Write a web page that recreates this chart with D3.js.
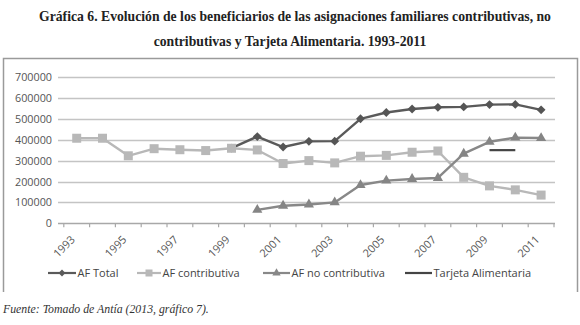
<!DOCTYPE html>
<html><head><meta charset="utf-8">
<script src="https://cdn.jsdelivr.net/npm/d3@7"></script>
<style>body{margin:0;background:#fff}svg{display:block}</style>
</head><body><svg id="c" width="580" height="325"></svg>
<script>
const years = [1993,1994,1995,1996,1997,1998,1999,2000,2001,2002,2003,2004,2005,2006,2007,2008,2009,2010,2011];
const yTicks = [0,100000,200000,300000,400000,500000,600000,700000];
const xTickLabels = [1993,1995,1997,1999,2001,2003,2005,2007,2009,2011];
const afTotal = [null,null,null,null,null,null,360000,415000,365000,392000,393000,500000,530000,547000,555000,557000,568000,569000,543000];
const afContributiva = [407000,407000,323000,357000,352000,348000,359000,351000,286000,300000,289000,321000,325000,340000,346000,220000,179000,160000,135000];
const afNoContributiva = [null,null,null,null,null,null,null,64000,84000,90000,100000,183000,204000,212000,217000,333000,390000,410000,408000];
const tarjeta = [null,null,null,null,null,null,null,null,null,null,null,null,null,null,null,null,350000,350000,null];
const seriesNames = ["AF Total","AF contributiva","AF no contributiva","Tarjeta Alimentaria"];

const svg = d3.select("#c");
const x = d3.scaleBand().domain(years).range([63.8, 554]);
const y = d3.scaleLinear().domain([0,700000]).range([223.3, 77]);
const cx = d => x(d) + x.bandwidth()/2;

// frame
svg.append("path").attr("d","M3.5,292 V58.5 H577.5 V292").attr("fill","none").attr("stroke","#9a9a9a").attr("stroke-width",1.5);

// title
const title = svg.append("g").attr("font-family","Liberation Serif, Times New Roman, serif").attr("font-weight","bold").attr("font-size","13.7px").attr("fill","#222").attr("text-anchor","middle");
title.append("text").attr("x",295).attr("y",21).text("Gráfica 6. Evolución de los beneficiarios de las asignaciones familiares contributivas, no");
title.append("text").attr("x",290).attr("y",46).text("contributivas y Tarjeta Alimentaria. 1993-2011");

// gridlines + y labels
const gy = svg.append("g");
yTicks.forEach(t=>{
  gy.append("line").attr("x1",58).attr("x2",555).attr("y1",Math.round(y(t))+0.5).attr("y2",Math.round(y(t))+0.5)
    .attr("stroke", t===0 ? "#a8a8a8" : "#c4c4c4").attr("stroke-width", 1.4);
  gy.append("text").attr("x",52).attr("y",y(t)+4).attr("text-anchor","end")
    .attr("font-family","Open Sans, DejaVu Sans, sans-serif").attr("font-size","10.8px").attr("fill","#555").text(t);
});
// x ticks between categories
const tickPos = years.map(d=>x(d)).concat([x(years[years.length-1])+x.bandwidth()]);
tickPos.forEach(p=>{
  svg.append("line").attr("x1",p).attr("x2",p).attr("y1",y(0)).attr("y2",y(0)+4).attr("stroke","#a8a8a8").attr("stroke-width",1.2);
});
xTickLabels.forEach(v=>{
  svg.append("text").attr("transform",`translate(${cx(v)-1},${y(0)+17}) rotate(-45)`).attr("text-anchor","end")
    .attr("font-family","Open Sans, DejaVu Sans, sans-serif").attr("font-size","11px").attr("fill","#555").text(v);
});

function drawLine(vals, color, width){
  const line = d3.line().defined(d=>d.v!=null).x(d=>cx(d.yr)).y(d=>y(d.v));
  const data = years.map((yr,i)=>({yr, v: vals[i]}));
  svg.append("path").datum(data).attr("d",line).attr("fill","none").attr("stroke",color).attr("stroke-width",width).attr("stroke-linejoin","round");
  return data.filter(d=>d.v!=null);
}
// AF Total
let pts = drawLine(afTotal, "#5a5a5a", 2.4);
svg.append("g").selectAll("path").data(pts).join("path")
  .attr("d", d3.symbol(d3.symbolDiamond2, 50)).attr("transform",d=>`translate(${cx(d.yr)},${y(d.v)})`).attr("fill","#555");
// AF contributiva
pts = drawLine(afContributiva, "#b8b8b8", 2.4);
svg.append("g").selectAll("rect").data(pts).join("rect")
  .attr("x",d=>cx(d.yr)-4.5).attr("y",d=>y(d.v)-4.5).attr("width",9).attr("height",9).attr("fill","#b8b8b8");
// AF no contributiva
pts = drawLine(afNoContributiva, "#888", 2.4);
svg.append("g").selectAll("path").data(pts).join("path")
  .attr("d", d3.symbol(d3.symbolTriangle, 45)).attr("transform",d=>`translate(${cx(d.yr)},${y(d.v)})`).attr("fill","#858585");
// Tarjeta
pts = drawLine(tarjeta, "#444", 2.2);
svg.append("g").selectAll("path").data(pts).join("path")
  .attr("d", d3.symbol(d3.symbolTimes, 40)).attr("transform",d=>`translate(${cx(d.yr)},${y(d.v)})`).attr("fill","#e2e2e2");

// legend
const leg = svg.append("g").attr("font-family","Open Sans, DejaVu Sans, sans-serif").attr("font-size","11px").attr("fill","#444");
const legItems = [
  {name: seriesNames[0], x1:48, x2:76, color:"#5a5a5a", mark:"diamond"},
  {name: seriesNames[1], x1:137, x2:161, color:"#b8b8b8", mark:"square"},
  {name: seriesNames[2], x1:263, x2:290, color:"#888", mark:"triangle"},
  {name: seriesNames[3], x1:405, x2:432, color:"#444", mark:null}
];
const ly = 273;
legItems.forEach(it=>{
  leg.append("line").attr("x1",it.x1).attr("x2",it.x2).attr("y1",ly).attr("y2",ly).attr("stroke",it.color).attr("stroke-width",2.2);
  const mx = (it.x1+it.x2)/2;
  if(it.mark==="diamond") leg.append("path").attr("d",d3.symbol(d3.symbolDiamond2,30)).attr("transform",`translate(${mx},${ly})`).attr("fill",it.color);
  if(it.mark==="square") leg.append("rect").attr("x",mx-3.5).attr("y",ly-3.5).attr("width",7).attr("height",7).attr("fill",it.color);
  if(it.mark==="triangle") leg.append("path").attr("d",d3.symbol(d3.symbolTriangle,30)).attr("transform",`translate(${mx},${ly})`).attr("fill",it.color);
  leg.append("text").attr("x",it.x2+1.5).attr("y",ly+4).text(it.name);
});

// source
svg.append("text").attr("x",3).attr("y",313).attr("font-family","Liberation Serif, Times New Roman, serif").attr("font-style","italic")
  .attr("font-size","11.8px").attr("fill","#333").text("Fuente: Tomado de Antía (2013, gráfico 7).");
</script></body></html>
